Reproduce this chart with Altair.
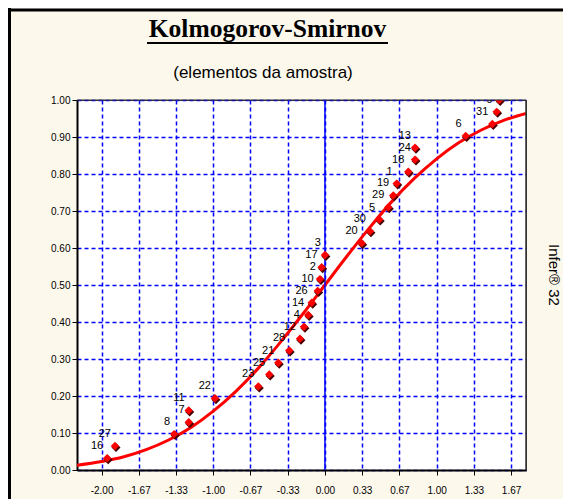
import altair as alt
import pandas as pd

# ---- data ----
pt_x = [-1.95, -1.88, -1.35, -1.22, -1.22, -0.985, -0.597, -0.499, -0.418, -0.320,
        -0.224, -0.188, -0.150, -0.119, -0.065, -0.045, -0.030, 0.000, 0.329, 0.403,
        0.486, 0.567, 0.611, 0.642, 0.746, 0.806, 0.806, 1.260, 1.498, 1.537, 1.560]
pt_y = [0.032, 0.065, 0.097, 0.129, 0.161, 0.194, 0.226, 0.258, 0.290, 0.323,
        0.355, 0.387, 0.419, 0.452, 0.484, 0.516, 0.548, 0.581, 0.613, 0.645,
        0.677, 0.710, 0.742, 0.774, 0.806, 0.839, 0.871, 0.903, 0.935, 0.968, 1.000]
pt_label = ["16", "27", "8", "7", "11", "22", "23", "25", "21", "28",
            "12", "4", "14", "26", "10", "2", "17", "3", "20", "30",
            "5", "29", "19", "1", "18", "24", "13", "6", "31", "9", "15"]

curve_x = [-2.22, -2.0, -1.8, -1.6, -1.4, -1.2, -1.0, -0.8, -0.6, -0.4, -0.2,
           0.0, 0.2, 0.4, 0.6, 0.8, 1.0, 1.2, 1.4, 1.6, 1.8]
curve_y = [0.013, 0.023, 0.036, 0.055, 0.081, 0.115, 0.159, 0.212, 0.274, 0.345, 0.421,
           0.500, 0.579, 0.655, 0.726, 0.788, 0.841, 0.885, 0.919, 0.945, 0.964]

x_ticks = [-2.0, -5/3, -4/3, -1.0, -2/3, -1/3, 0.0, 1/3, 2/3, 1.0, 4/3, 5/3]
y_ticks = [0.0, 0.1, 0.2, 0.3, 0.4, 0.5, 0.6, 0.7, 0.8, 0.9, 1.0]

title_text = "Kolmogorov-Smirnov"
subtitle_text = "(elementos da amostra)"
side_text = "Infer\u00ae 32"

pts = pd.DataFrame({"x": pt_x, "y": pt_y, "label": pt_label})
curve = pd.DataFrame({"x": curve_x, "y": curve_y})
one = pd.DataFrame({"a": [0]})

x_scale = alt.Scale(domain=[-2.22, 1.80], nice=False, zero=False)
y_scale = alt.Scale(domain=[0, 1], nice=False)

grid_kw = dict(grid=True, gridColor="#0000FF", gridDash=[4, 3], gridWidth=1.5,
               domainColor="#000000", domainWidth=2, tickColor="#000000", tickSize=5,
               labelFont="Liberation Sans", labelFontSize=10, labelColor="#000000",
               labelFlush=False, labelOverlap=False, title=None)

x_axis = alt.Axis(values=x_ticks,
                  labelExpr="replace(format(datum.value, '.2f'), '\u2212', '-')",
                  labelPadding=10, **grid_kw)
y_axis = alt.Axis(values=y_ticks, format=".2f", labelPadding=2, tickCount=11, **grid_kw)

line = alt.Chart(curve).mark_line(color="#FF0000", strokeWidth=3, interpolate="monotone", clip=True).encode(
    x=alt.X("x:Q", scale=x_scale, axis=x_axis),
    y=alt.Y("y:Q", scale=y_scale, axis=y_axis),
)

zero = alt.Chart(pd.DataFrame({"x": [0.0]})).mark_rule(color="#0000FF", strokeWidth=1.5).encode(
    x=alt.X("x:Q", scale=x_scale, axis=x_axis)
)

shadow = alt.Chart(pts).mark_point(shape="diamond", filled=True, color="#4a0000", size=81,
                                   opacity=1, xOffset=1, yOffset=1.5, clip=True).encode(
    x=alt.X("x:Q", scale=x_scale, axis=x_axis), y=alt.Y("y:Q", scale=y_scale, axis=y_axis))

points = alt.Chart(pts).mark_point(shape="diamond", filled=True, color="#FF0000", size=70,
                                   opacity=1, clip=True).encode(
    x=alt.X("x:Q", scale=x_scale, axis=x_axis), y=alt.Y("y:Q", scale=y_scale, axis=y_axis))

labels = alt.Chart(pts).mark_text(align="right", baseline="middle", dx=-4, dy=-12,
                                  font="Liberation Sans", fontSize=11, color="#000000",
                                  clip=True).encode(
    x=alt.X("x:Q", scale=x_scale, axis=x_axis), y=alt.Y("y:Q", scale=y_scale, axis=y_axis),
    text="label:N")

# ---- plot border over the grid ----
border_top = alt.Chart(one).mark_rule(color="#333333", strokeWidth=1).encode(
    x=alt.value(0), x2=alt.value(449), y=alt.value(0))
border_right = alt.Chart(one).mark_rule(color="#333333", strokeWidth=1.5).encode(
    x=alt.value(449), y=alt.value(0), y2=alt.value(370))

# ---- decorations (frame, titles) ----
title = alt.Chart(one).mark_text(text=title_text, font="Liberation Serif", fontSize=25.5,
                                 fontWeight="bold", align="center", baseline="alphabetic",
                                 color="#000000").encode(x=alt.value(190.5), y=alt.value(-63.5))
underline = alt.Chart(one).mark_rule(color="#000000", strokeWidth=2).encode(
    x=alt.value(70), x2=alt.value(311), y=alt.value(-57))
subtitle = alt.Chart(one).mark_text(text=subtitle_text, font="Liberation Sans", fontSize=17,
                                    align="center", baseline="middle", color="#000000").encode(
    x=alt.value(186), y=alt.value(-27))
side = alt.Chart(one).mark_text(text=side_text, font="Liberation Sans", fontSize=15, angle=90,
                                align="center", baseline="middle", color="#000000").encode(
    x=alt.value(477), y=alt.value(175))
frame_left = alt.Chart(one).mark_rule(color="#000000", strokeWidth=3).encode(
    x=alt.value(-67.5), y=alt.value(-92), y2=alt.value(400))
frame_top = alt.Chart(one).mark_rule(color="#000000", strokeWidth=3).encode(
    x=alt.value(-69), x2=alt.value(490), y=alt.value(-90))

chart = alt.layer(line, zero, shadow, points, labels, border_top, border_right,
                  title, underline, subtitle, side, frame_left, frame_top).properties(
    width=449, height=370,
    autosize=alt.AutoSizeParams(type="none"),
    padding={"left": 69, "top": 92, "right": 37, "bottom": 29},
    background="#FDF8EC",
).configure_view(fill="#FFFFFF", stroke="#333333", strokeWidth=1)

chart.save("out.html", embed_options={"renderer": "svg", "actions": False})
